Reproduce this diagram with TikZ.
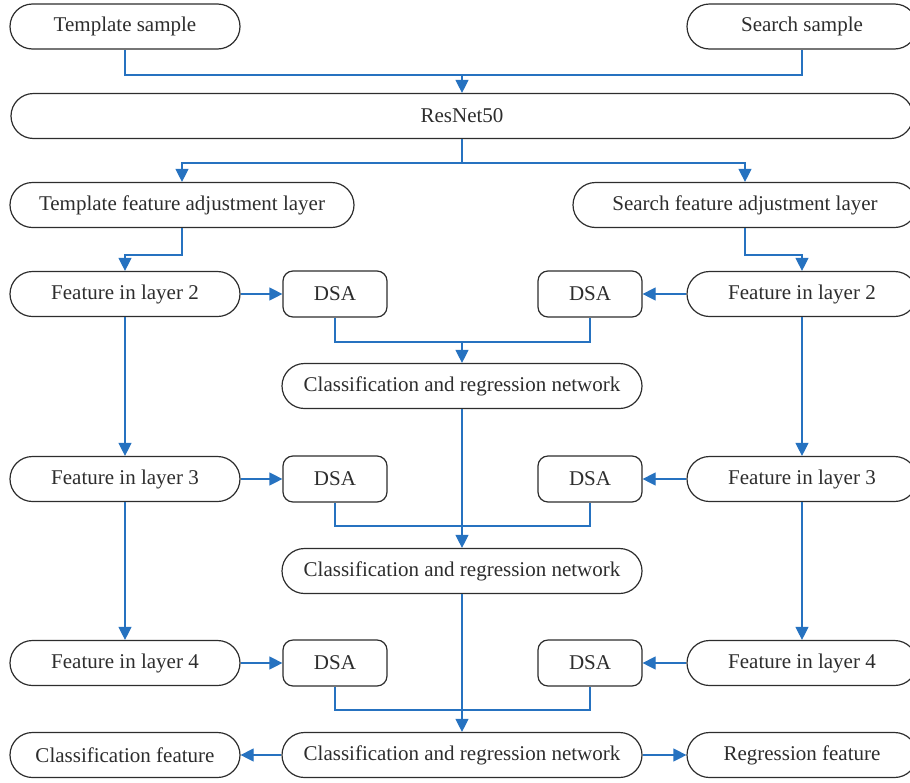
\documentclass[tikz,border=0pt]{standalone}
\usepackage{fontspec}
\setmainfont{Liberation Serif}
\usetikzlibrary{arrows.meta}
\definecolor{lineblue}{RGB}{38,114,192}
\definecolor{boxgray}{RGB}{45,45,45}
\begin{document}
\begin{tikzpicture}[x=0.5pt,y=-0.5pt,
    every node/.style={font=\fontsize{10.5}{12}\selectfont,text=boxgray,inner sep=0pt},
    pill/.style={draw=boxgray,line width=0.6pt,rounded corners=11.25pt,minimum height=22.5pt,minimum width=115pt},
    dsabox/.style={draw=boxgray,line width=0.6pt,rounded corners=5pt,minimum height=23pt,minimum width=52pt},
    link/.style={draw=lineblue,line width=0.6pt},
    flow/.style={link,-{Triangle[width=6.5pt,length=6.5pt]}}]
            \useasboundingbox (0,0) rectangle (910,782);

            \node[pill] (tsample) at (125,26.5) {Template sample};
            \node[pill] (ssample) at (802,26.5) {Search sample};
            \node[pill,minimum width=451pt] (resnet) at (462,116) {ResNet50};
            \node[pill,minimum width=172pt] (tadj) at (182,205) {Template feature adjustment layer};
            \node[pill,minimum width=172pt] (sadj) at (745,205) {Search feature adjustment layer};

            \node[pill] (tf2) at (125,294) {Feature in layer 2};
            \node[dsabox] (td2) at (335,294) {DSA};
            \node[dsabox] (sd2) at (590,294) {DSA};
            \node[pill] (sf2) at (802,294) {Feature in layer 2};
            \node[pill,minimum width=180pt] (cn1) at (462,386) {Classification and regression network};

            \node[pill] (tf3) at (125,479) {Feature in layer 3};
            \node[dsabox] (td3) at (335,479) {DSA};
            \node[dsabox] (sd3) at (590,479) {DSA};
            \node[pill] (sf3) at (802,479) {Feature in layer 3};
            \node[pill,minimum width=180pt] (cn2) at (462,571) {Classification and regression network};

            \node[pill] (tf4) at (125,663) {Feature in layer 4};
            \node[dsabox] (td4) at (335,663) {DSA};
            \node[dsabox] (sd4) at (590,663) {DSA};
            \node[pill] (sf4) at (802,663) {Feature in layer 4};

            \node[pill] (cfeat) at (125,755) {Classification feature};
            \node[pill,minimum width=180pt] (cn3) at (462,755) {Classification and regression network};
            \node[pill] (rfeat) at (802,755) {Regression feature};

            % elbow points
            \coordinate (j1) at (462,75);
            \coordinate (j2) at (462,163);
            \coordinate (j3) at (125,255);
            \coordinate (j4) at (802,255);
            \coordinate (j5) at (462,342);
            \coordinate (j6) at (462,526);
            \coordinate (j7) at (462,710);

            \draw[link] (tsample) |- (j1) -| (ssample);
            \draw[flow] (j1) -- (resnet);
            \draw[link] (resnet.south) -- (j2);
            \draw[flow] (j2) -| (tadj);
            \draw[flow] (j2) -| (sadj);
            \draw[flow] (tadj) |- (j3) -- (tf2);
            \draw[flow] (sadj) |- (j4) -- (sf2);

            \draw[flow] (tf2) -- (td2);
            \draw[flow] (sf2) -- (sd2);
            \draw[link] (td2) |- (j5) -| (sd2);
            \draw[flow] (j5) -- (cn1);

            \draw[flow] (tf2) -- (tf3);
            \draw[flow] (sf2) -- (sf3);
            \draw[flow] (tf3) -- (td3);
            \draw[flow] (sf3) -- (sd3);
            \draw[link] (td3) |- (j6) -| (sd3);
            \draw[flow] (cn1) -- (cn2);

            \draw[flow] (tf3) -- (tf4);
            \draw[flow] (sf3) -- (sf4);
            \draw[flow] (tf4) -- (td4);
            \draw[flow] (sf4) -- (sd4);
            \draw[link] (td4) |- (j7) -| (sd4);
            \draw[flow] (cn2) -- (cn3);

            \draw[flow] (cn3) -- (cfeat);
            \draw[flow] (cn3) -- (rfeat);
        \end{tikzpicture}
\end{document}
